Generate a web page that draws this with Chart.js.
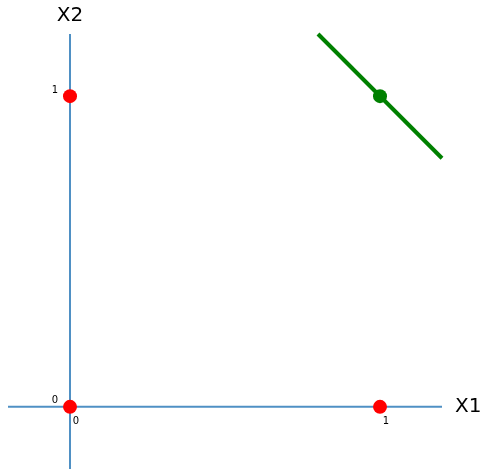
<!DOCTYPE html>
<html>
<head>
<meta charset="utf-8">
<script src="https://cdn.jsdelivr.net/npm/chart.js@4/dist/chart.umd.min.js"></script>
<style>
  html, body { margin: 0; padding: 0; background: #fff; }
  #wrap { width: 488px; height: 476px; }
</style>
</head>
<body>
<div id="wrap"><canvas id="chart"></canvas></div>
<script>
// data
const redX = [0, 1, 0];
const redY = [0, 0, 1];
const greenX = [1];
const greenY = [1];
const lineX = [0.8, 1.2];
const lineY = [1.2, 0.8];
const axisMin = -0.2;
const axisMax = 1.2;
const xTicks = [0, 1];
const yTicks = [0, 1];

const pts = (xs, ys) => xs.map((x, i) => ({ x: x, y: ys[i] }));
const axisBlue = "#4f90c4";

// tick labels and axis titles drawn through the scales
const labelsPlugin = {
    id: "labels",
    afterDraw(chart) {
        const ctx = chart.ctx;
        const xs = chart.scales.x, ys = chart.scales.y;
        const x0 = xs.getPixelForValue(0), y0 = ys.getPixelForValue(0);
        ctx.save();
        ctx.fillStyle = "#000";
        ctx.textAlign = "center";
        ctx.textBaseline = "middle";
        ctx.font = "10px 'DejaVu Sans'";
        xTicks.forEach(v => ctx.fillText(String(v), xs.getPixelForValue(v) + 6, y0 + 15));
        yTicks.forEach(v => ctx.fillText(String(v), x0 - 15, ys.getPixelForValue(v) - 6));
        ctx.font = "20px 'DejaVu Sans'";
        ctx.textAlign = "left";
        ctx.fillText("X1", xs.getPixelForValue(axisMax) + 13, y0);
        ctx.textAlign = "center";
        ctx.fillText("X2", x0, 16);
        ctx.restore();
    }
};

new Chart(document.getElementById("chart"), {
    type: "scatter",
    data: {
        datasets: [
            {   // horizontal axis
                data: pts([axisMin, axisMax], [0, 0]),
                showLine: true, borderColor: axisBlue, borderWidth: 2,
                pointRadius: 0, order: 5
            },
            {   // vertical axis
                data: pts([0, 0], [axisMin, axisMax]),
                showLine: true, borderColor: axisBlue, borderWidth: 2,
                pointRadius: 0, order: 5
            },
            {   // decision line
                data: pts(lineX, lineY),
                showLine: true, borderColor: "#008000", borderWidth: 4,
                pointRadius: 0, order: 4
            },
            {
                data: pts(redX, redY),
                backgroundColor: "#ff0000", borderColor: "#ff0000",
                pointRadius: 7, borderWidth: 0, order: 1
            },
            {
                data: pts(greenX, greenY),
                backgroundColor: "#008000", borderColor: "#008000",
                pointRadius: 7, borderWidth: 0, order: 1
            }
        ]
    },
    options: {
        responsive: true,
        maintainAspectRatio: false,
        animation: false,
        clip: false,
        layout: { padding: { left: 8, right: 46, top: 34, bottom: 6 } },
        scales: {
            x: { type: "linear", min: axisMin, max: axisMax, display: false },
            y: { type: "linear", min: axisMin, max: axisMax, display: false }
        },
        plugins: { legend: { display: false }, tooltip: { enabled: false } }
    },
    plugins: [labelsPlugin]
});
</script>
</body>
</html>
